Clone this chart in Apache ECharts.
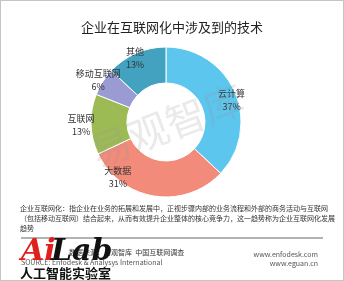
<!DOCTYPE html>
<html>
<head>
<meta charset="utf-8">
<script src="https://cdn.jsdelivr.net/npm/echarts@6/dist/echarts.min.js"></script>
<style>
  html, body { margin: 0; padding: 0; background: #fff; }
  #main { width: 342px; height: 279px; border: 1px solid #c4c4c4; }
</style>
</head>
<body>
<div id="main"></div>
<script>
(function () {
  var names = ["云计算", "大数据", "互联网", "移动互联网", "其他"];
  var values = [37, 31, 13, 6, 13];
  var colors = ["#5cc6ef", "#f38b7b", "#9dbb55", "#9a9bd2", "#43a2c0"];
  // label nudges (like the excel "best fit" placement)
  var nudges = [[-6, 9], [-36, -22], [-7, 1], [-2, 0], [0, 8]];

  var font = "'Noto Sans CJK SC', sans-serif";
  var myChart = echarts.init(document.getElementById("main"));

  var ringData = names.map(function (n, i) {
    return { name: n, value: values[i], itemStyle: { color: colors[i] } };
  });
  var labelData = names.map(function (n, i) {
    return { name: n, value: values[i], label: { offset: nudges[i] } };
  });

  var desc = [
    "企业互联网化：指企业在业务的拓展和发展中，正视步骤内部的业务流程和外部的商务活动与互联网",
    "（包括移动互联网）结合起来，从而有效提升企业整体的核心竞争力，这一趋势称为企业互联网化发展",
    "趋势"
  ];

  myChart.setOption({
    animation: false,
    title: {
      text: "企业在互联网化中涉及到的技术",
      left: "center",
      top: 15,
      textStyle: { fontFamily: font, fontSize: 13, fontWeight: "normal", color: "#222" }
    },
    series: [
      {
        type: "pie",
        center: [165, 121],
        radius: [39, 75],
        startAngle: 90,
        label: { show: false },
        labelLine: { show: false },
        itemStyle: { borderColor: "#fff", borderWidth: 1 },
        data: ringData
      },
      {
        type: "pie",
        center: [165, 121],
        radius: [60, 90],
        startAngle: 90,
        silent: true,
        z: 3,
        itemStyle: { color: "rgba(0,0,0,0)" },
        label: {
          position: "inside",
          formatter: "{b}\n{c}%",
          fontFamily: font,
          fontSize: 9,
          lineHeight: 13,
          color: "#333"
        },
        labelLine: { show: false },
        data: labelData
      }
    ],
    graphic: [
      {
        type: "text", x: 166, y: 124, rotation: 0.36, z: 5,
        style: {
          text: "易观智库", font: "40px " + font, fill: "rgba(150,150,150,0.2)",
          align: "center", verticalAlign: "middle"
        }
      },
      {
        type: "group", left: 19, top: 204,
        children: desc.map(function (t, i) {
          return {
            type: "text", x: 0, y: i * 10,
            style: { text: t, font: "7px " + font, fill: "#333" }
          };
        })
      },
      {
        type: "line",
        shape: { x1: 20, y1: 237, x2: 322, y2: 237 },
        style: { stroke: "#999", lineWidth: 1.5 }
      },
      {
        type: "text", x: 68, y: 248,
        style: { text: "数据来源：易观智库  中国互联网调查", font: "7px " + font, fill: "#333" }
      },
      {
        type: "text", x: 20, y: 258,
        style: { text: "SOURCE: Enfodesk & Analysys International", font: "7px " + font, fill: "#555" }
      },
      {
        type: "text", x: 317, y: 250,
        style: { text: "www.enfodesk.com", font: "7px " + font, fill: "#555", align: "right" }
      },
      {
        type: "text", x: 317, y: 259,
        style: { text: "www.eguan.cn", font: "7px " + font, fill: "#555", align: "right" }
      },
      {
        type: "text", x: 20, y: 236, z: 10,
        style: { text: "Ai", font: "italic bold 30px 'DejaVu Serif', serif", fill: "#e0201c" }
      },
      {
        type: "text", x: 50, y: 236, z: 10,
        style: { text: "Lab", font: "italic bold 30px 'DejaVu Serif', serif", fill: "#111" }
      },
      {
        type: "text", x: 19, y: 266, z: 10,
        style: { text: "人工智能实验室", font: "bold 13px " + font, fill: "#111" }
      }
    ]
  });

  window.addEventListener("resize", function () {
    myChart.resize();
  });
})();
</script>
</body>
</html>
